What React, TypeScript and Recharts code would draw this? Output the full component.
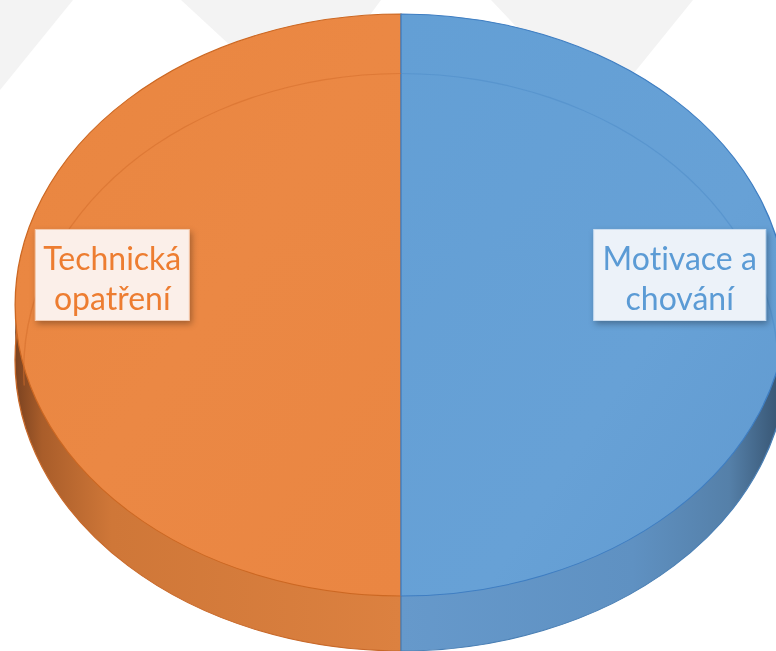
import { PieChart, Pie, Cell } from "recharts";

const categories = ["Technická opatření", "Motivace a chování"];
const values = [50, 50];
const labelLines = [
  ["Technická", "opatření"],
  ["Motivace a", "chování"],
];

const W = 776;
const H = 651;
const RADIAN = Math.PI / 180;

// ellipse geometry of the 3D pie (screen px)
const CX = 401;
const TOP_CY = 305;
const RX = 386;
const RY = 291;
const DEPTH = 55;

const topFill = ["url(#topOrange)", "url(#topBlue)"];
const topStroke = ["#cc6823", "#3f7ec2"];
const sideFill = ["url(#sideOrange)", "url(#sideBlue)"];
const sideStroke = ["#c8692a", "#4a7fb4"];
const ringFill = ["#d46d2c", "#4f8cc8"];
const textColor = ["#ed7d31", "#5b9bd5"];
const boxFill = ["#fbefe9", "#ecf2f9"];
const boxW = [154, 172];
const boxH = 91;

const data = categories.map((name, i) => ({ name, value: values[i] }));

function Layer({ cy, rx, ry, children }: { cy: number; rx: number; ry: number; children: (cyU: number, k: number) => any }) {
  const k = ry / rx;
  const hu = H / k;
  return (
    <div
      style={{
        position: "absolute",
        left: 0,
        top: 0,
        width: W,
        height: hu,
        transform: `scaleY(${k})`,
        transformOrigin: "0 0",
      }}
    >
      <PieChart width={W} height={hu} margin={{ top: 0, right: 0, bottom: 0, left: 0 }}>
        {children(cy / k, k)}
      </PieChart>
    </div>
  );
}

const makeLabel = (k: number) => (props: any) => {
  const { cx, cy, midAngle, outerRadius, index } = props;
  const r = outerRadius * 0.735;
  const x = cx + r * Math.cos(-midAngle * RADIAN);
  const w = boxW[index];
  const lines = labelLines[index];
  return (
    <g transform={`translate(${x},${cy}) scale(1,${1 / k}) translate(-5,-30)`}>
      <rect
        x={-w / 2}
        y={-boxH / 2}
        width={w}
        height={boxH}
        fill={boxFill[index]}
        stroke={index === 0 ? "#f3c9ad" : "#c9dcef"}
        strokeWidth={1}
        filter="url(#boxShadow)"
      />
      {lines.map((t, j) => (
        <text
          key={j}
          x={0}
          y={-5 + j * 40}
          textAnchor="middle"
          fill={textColor[index]}
          fontSize={32}
          fontFamily="Lato, 'Open Sans', sans-serif"
          style={{ fontVariantLigatures: "none" }}
        >
          {t}
        </text>
      ))}
    </g>
  );
};

function Defs() {
  return (
    <svg width={0} height={0} style={{ position: "absolute" }}>
      <defs>
        <linearGradient id="topOrange" x1="0" y1="0" x2="1" y2="1">
          <stop offset="0" stopColor="#e98640" />
          <stop offset="0.5" stopColor="#eb8844" />
          <stop offset="1" stopColor="#ea8642" />
        </linearGradient>
        <linearGradient id="topBlue" x1="0" y1="0" x2="1" y2="1">
          <stop offset="0" stopColor="#639fd5" />
          <stop offset="0.6" stopColor="#67a1d6" />
          <stop offset="1" stopColor="#6099cf" />
        </linearGradient>
        <linearGradient id="sideOrange" x1="0" y1="0" x2="1" y2="0">
          <stop offset="0" stopColor="#7a4220" />
          <stop offset="0.07" stopColor="#a95d2a" />
          <stop offset="0.25" stopColor="#cf7738" />
          <stop offset="1" stopColor="#dc8140" />
        </linearGradient>
        <linearGradient id="sideBlue" x1="0" y1="0" x2="1" y2="0">
          <stop offset="0" stopColor="#6699cb" />
          <stop offset="0.6" stopColor="#5f91c2" />
          <stop offset="0.85" stopColor="#5580a9" />
          <stop offset="1" stopColor="#334f6b" />
        </linearGradient>
        <filter id="boxShadow" x="-20%" y="-20%" width="150%" height="150%">
          <feDropShadow dx="2" dy="3" stdDeviation="3" floodColor="#000" floodOpacity="0.3" />
        </filter>
      </defs>
    </svg>
  );
}

export default function App() {
  return (
    <div style={{ position: "absolute", left: 0, top: 0, width: W, height: H, overflow: "hidden", background: "#fff" }}>
      <Defs />
      {/* faint background chevrons */}
      <svg width={W} height={H} style={{ position: "absolute", left: 0, top: 0 }}>
        <polygon points="0,0 73,0 0,90" fill="#f3f3f3" />
        <polygon points="181,0 381,0 300,110" fill="#f3f3f3" />
        <polygon points="491,0 693,0 600,115" fill="#f3f3f3" />
      </svg>

      {/* side walls */}
      <Layer cy={TOP_CY + DEPTH / 2} rx={RX} ry={RY}>
        {(cyU) => (
          <Pie data={data} dataKey="value" cx={CX} cy={cyU} outerRadius={RX} startAngle={90} endAngle={450} isAnimationActive={false} stroke="none">
            {data.map((d, i) => (
              <Cell key={d.name} fill={sideFill[i]} stroke="none" />
            ))}
          </Pie>
        )}
      </Layer>
      <Layer cy={TOP_CY + DEPTH} rx={RX} ry={RY}>
        {(cyU) => (
          <Pie data={data} dataKey="value" cx={CX} cy={cyU} outerRadius={RX} startAngle={90} endAngle={450} isAnimationActive={false}>
            {data.map((d, i) => (
              <Cell key={d.name} fill={sideFill[i]} stroke={sideStroke[i]} strokeWidth={1.3} />
            ))}
          </Pie>
        )}
      </Layer>

      {/* top face */}
      <Layer cy={TOP_CY} rx={RX} ry={RY}>
        {(cyU) => (
          <Pie data={data} dataKey="value" cx={CX} cy={cyU} outerRadius={RX} startAngle={90} endAngle={450} isAnimationActive={false}>
            {data.map((d, i) => (
              <Cell key={d.name} fill={topFill[i]} stroke={topStroke[i]} strokeWidth={1.3} />
            ))}
          </Pie>
        )}
      </Layer>

      {/* bevel line on the top face */}
      <Layer cy={370} rx={378} ry={297}>
        {(cyU) => (
          <Pie data={data} dataKey="value" cx={CX} cy={cyU} innerRadius={376.6} outerRadius={378} startAngle={183} endAngle={-3} isAnimationActive={false} stroke="none">
            {data.map((d, i) => (
              <Cell key={d.name} fill={ringFill[i]} fillOpacity={0.55} stroke="none" />
            ))}
          </Pie>
        )}
      </Layer>

      {/* labels */}
      <Layer cy={TOP_CY} rx={RX} ry={RY}>
        {(cyU, k) => (
          <Pie data={data} dataKey="value" cx={CX} cy={cyU} outerRadius={RX} startAngle={90} endAngle={450} isAnimationActive={false} fill="none" stroke="none" labelLine={false} label={makeLabel(k)}>
            {data.map((d) => (
              <Cell key={d.name} fill="none" stroke="none" />
            ))}
          </Pie>
        )}
      </Layer>
    </div>
  );
}
